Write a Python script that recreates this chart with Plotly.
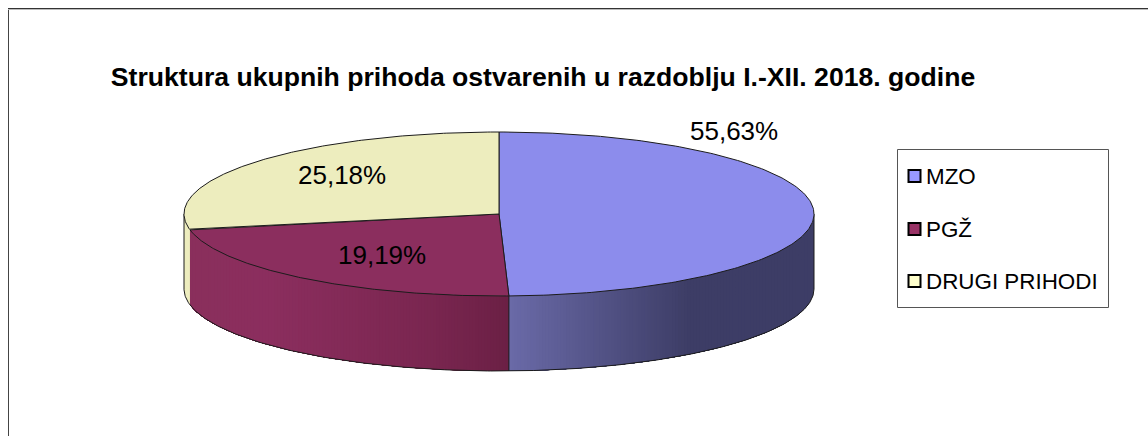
import numpy as np
import plotly.graph_objects as go

# Categories and printed labels, as they read in the reference
categories = ["MZO", "PGŽ", "DRUGI PRIHODI"]
printed_labels = ["55,63%", "19,19%", "25,18%"]
# The reference's 3D rendering does not sweep in proportion to its printed labels;
# these are the shares as actually drawn
drawn_shares = [49.5, 22.4, 28.1]
title_text = "Struktura ukupnih prihoda ostvarenih u razdoblju I.-XII. 2018. godine"

top_colors = ["#8C8CEC", "#8B2E5E", "#EDEDBE"]
legend_colors = ["#9999FF", "#993366", "#FFFFCC"]
# (fraction from the left of the visible side of the slice, colour) for the shaded wall
side_stops = [
    [(0.0, (106, 106, 168)), (0.59, (61, 61, 102)), (1.0, (61, 61, 102))],
    [(0.0, (138, 47, 92)), (0.25, (139, 46, 94)), (0.75, (122, 38, 80)), (1.0, (107, 32, 69))],
    [(0.0, (237, 237, 190)), (1.0, (237, 237, 190))],
]

CX, CY, RX, RY, DEPTH = 499.0, 214.0, 315.0, 82.0, 75.0
EDGE = "#1c1c1c"
STRIP_PX = 3.0


def ex(t):
    return CX + RX * np.sin(np.radians(t))


def ey(t):
    return CY - RY * np.cos(np.radians(t))


def side_color(stops, f):
    fs = [s[0] for s in stops]
    rgb = [float(np.interp(f, fs, [s[1][i] for s in stops])) for i in range(3)]
    return "rgb(%d,%d,%d)" % tuple(round(v) for v in rgb)


bounds = np.concatenate([[0.0], np.cumsum(drawn_shares)]) / np.sum(drawn_shares) * 360.0
fig = go.Figure()

# Side wall, drawn only where it faces the viewer (90 to 270 degrees).
# Each strip reaches to the far end of its slice and the next one paints over it, so no seams show.
for i, cat in enumerate(categories):
    a, b = max(bounds[i], 90.0), min(bounds[i + 1], 270.0)
    xa, xb = ex(a), ex(b)
    n = max(int(abs(xb - xa) / STRIP_PX), 1)
    edges = 180.0 - np.degrees(np.arcsin(np.clip((np.linspace(xa, xb, n + 1) - CX) / RX, -1, 1)))
    for t0, t1 in zip(edges[:-1], edges[1:]):
        ts = np.linspace(t0, b, 80)
        xs = np.concatenate([ex(ts), ex(ts[::-1])])
        ys = np.concatenate([ey(ts), ey(ts[::-1]) + DEPTH])
        f = (ex((t0 + t1) / 2) - min(xa, xb)) / abs(xb - xa)
        fig.add_trace(go.Scatter(x=xs, y=ys, mode="lines", fill="toself",
                                 fillcolor=side_color(side_stops[i], f),
                                 line=dict(width=0), hoverinfo="skip", showlegend=False))

# Wall outlines: bottom arc, outer verticals, and the slice boundary at the front
ts = np.linspace(90, 270, 300)
fig.add_trace(go.Scatter(x=ex(ts), y=ey(ts) + DEPTH, mode="lines", line=dict(color=EDGE, width=1),
                         hoverinfo="skip", showlegend=False))
for t in [90.0, 270.0, bounds[1]]:
    fig.add_trace(go.Scatter(x=[ex(t), ex(t)], y=[ey(t), ey(t) + DEPTH], mode="lines",
                             line=dict(color=EDGE, width=1), hoverinfo="skip", showlegend=False))

# Top face
for i, cat in enumerate(categories):
    ts = np.linspace(bounds[i], bounds[i + 1], 200)
    fig.add_trace(go.Scatter(x=np.r_[CX, ex(ts), CX], y=np.r_[CY, ey(ts), CY], mode="lines",
                             fill="toself", fillcolor=top_colors[i], line=dict(color=EDGE, width=1),
                             name=cat, text=printed_labels[i], hoverinfo="name+text", showlegend=False))

# Frame, legend box and legend swatches
shapes = [
    dict(type="line", x0=8.5, x1=8.5, y0=8, y1=436, line=dict(color="#444444", width=1)),
    dict(type="line", x0=8, x1=1148, y0=8.5, y1=8.5, line=dict(color="#333333", width=1)),
    dict(type="line", x0=8, x1=1148, y0=9.5, y1=9.5, line=dict(color="#bbbbbb", width=1)),
    dict(type="rect", x0=897.5, x1=1108.5, y0=149.5, y1=307.5, line=dict(color="#555555", width=1)),
]
legend_y = [176, 229, 281]
annotations = []
for i, cat in enumerate(categories):
    shapes.append(dict(type="rect", x0=908.5, x1=920.5, y0=legend_y[i] - 6, y1=legend_y[i] + 6,
                       fillcolor=legend_colors[i], line=dict(color="#000000", width=2)))
    annotations.append(dict(x=924, y=legend_y[i], text=cat, xanchor="left", yanchor="middle",
                            showarrow=False, font=dict(size=22.4, color="#000000")))

label_pos = [(734, 131), (382, 255), (342, 175)]
for (lx, ly), lab in zip(label_pos, printed_labels):
    annotations.append(dict(x=lx, y=ly, text=lab, xanchor="center", yanchor="middle",
                            showarrow=False, font=dict(size=26, color="#000000")))

fig.update_layout(
    width=1148, height=436, autosize=False,
    margin=dict(l=0, r=0, t=0, b=0),
    paper_bgcolor="#ffffff", plot_bgcolor="#ffffff",
    font=dict(family="Liberation Sans, Arial, sans-serif", color="#000000"),
    title=dict(text="<b>%s</b>" % title_text, x=543 / 1148, xanchor="center", y=1 - 77 / 436,
               yanchor="middle", font=dict(size=26.6, color="#000000")),
    xaxis=dict(range=[0, 1148], visible=False, fixedrange=True),
    yaxis=dict(range=[436, 0], visible=False, fixedrange=True),
    shapes=shapes, annotations=annotations, showlegend=False,
)
fig.write_html("out.html", config=dict(displayModeBar=False),
               post_script="document.body.style.margin='0';document.body.style.overflow='hidden';")
